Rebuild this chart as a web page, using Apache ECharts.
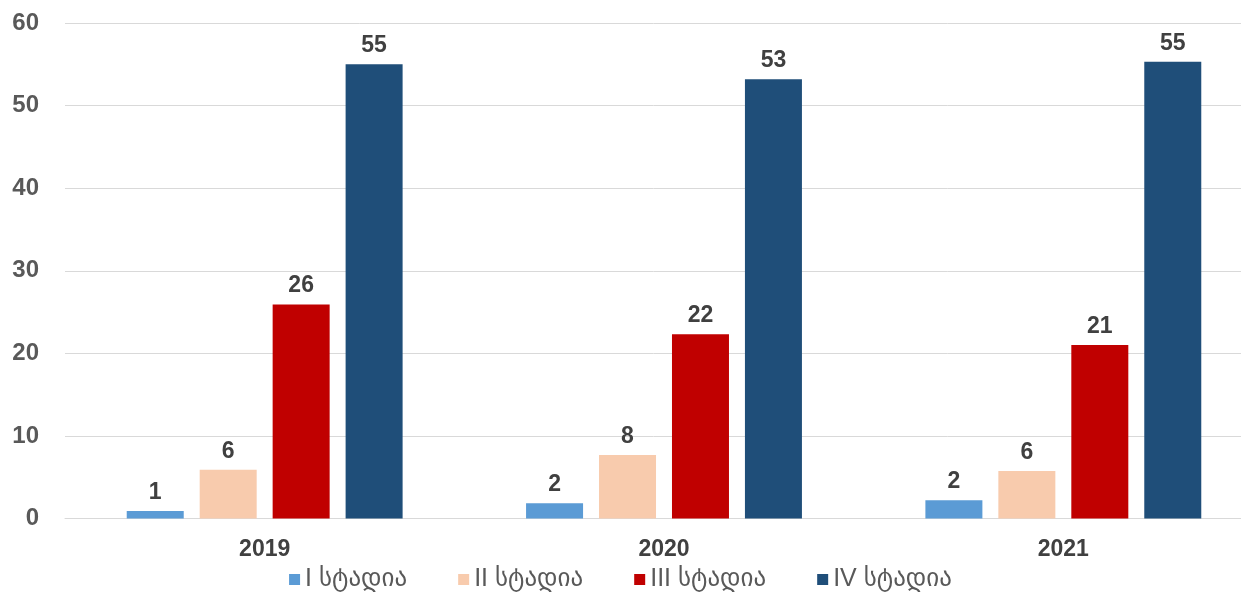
<!DOCTYPE html>
<html>
<head>
<meta charset="utf-8">
<script src="https://cdn.jsdelivr.net/npm/echarts@6/dist/echarts.min.js"></script>
<style>html,body{margin:0;padding:0;background:#fff}#c{width:1241px;height:599px}</style>
</head>
<body>
<div id="c"></div>
<script>
const categories = ['2019', '2020', '2021'];
const seriesNames = ['I სტადია', 'II სტადია', 'III სტადია', 'IV სტადია'];
const stage1 = [0.9, 1.85, 2.2];
const stage2 = [5.9, 7.7, 5.75];
const stage3 = [25.9, 22.3, 21.0];
const stage4 = [55.0, 53.2, 55.3];
const colors = ['#5B9BD5', '#F8CBAD', '#C00000', '#1F4E79'];
const yTicks = { min: 0, max: 60, interval: 10 };

const FONT = 'Liberation Sans, Arial, DejaVu Sans, sans-serif';
const allData = [stage1, stage2, stage3, stage4];

const chart = echarts.init(document.getElementById('c'), null, { renderer: 'canvas' });
chart.setOption({
  animation: false,
  backgroundColor: '#fff',
  textStyle: { fontFamily: FONT },
  grid: { left: 65, top: 23, right: -22, bottom: 80.5, containLabel: false, outerBoundsMode: 'none' },
  legend: {
    bottom: 2,
    left: 'center',
    itemWidth: 11,
    itemHeight: 11,
    itemGap: 51,
    icon: 'rect',
    textStyle: { fontSize: 25, color: '#595959', fontFamily: FONT },
    data: seriesNames
  },
  xAxis: {
    type: 'category',
    data: categories,
    axisLine: { show: true, lineStyle: { color: '#d9d9d9', width: 1 } },
    axisTick: { show: false },
    axisLabel: { fontSize: 23, fontWeight: 'bold', color: '#404040', margin: 20, fontFamily: FONT }
  },
  yAxis: {
    type: 'value',
    min: yTicks.min, max: yTicks.max, interval: yTicks.interval,
    axisLine: { show: false },
    axisTick: { show: false },
    splitLine: { lineStyle: { color: '#d9d9d9', width: 1 } },
    axisLabel: { fontSize: 24, fontWeight: 'bold', color: '#595959', margin: 26, fontFamily: FONT }
  },
  series: seriesNames.map((n, i) => ({
    name: n,
    type: 'bar',
    data: allData[i],
    barWidth: 57,
    barGap: '28%',
    itemStyle: { color: colors[i] },
    label: {
      show: true,
      position: 'top',
      distance: 7,
      fontSize: 23,
      fontWeight: 'bold',
      color: '#404040',
      fontFamily: FONT,
      formatter: p => Math.round(p.value)
    }
  }))
});
</script>
</body>
</html>
